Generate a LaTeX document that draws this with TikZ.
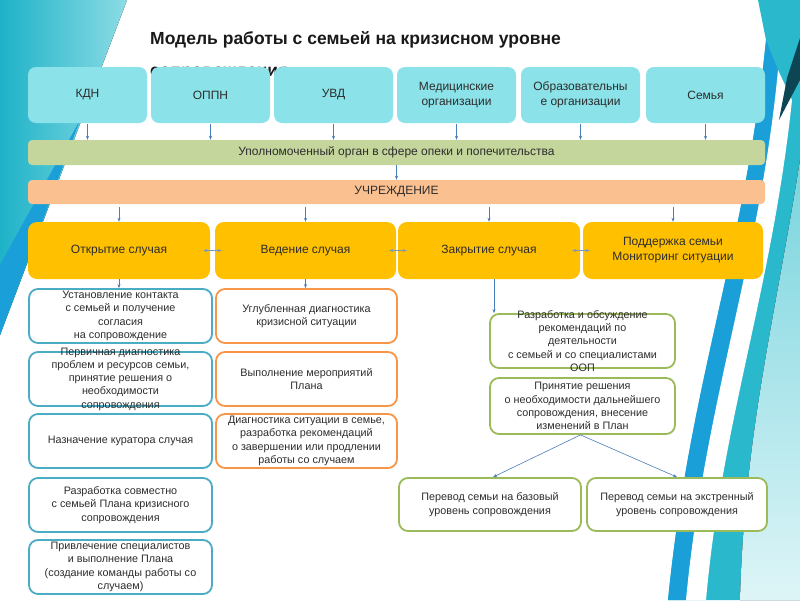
\documentclass[tikz,border=0pt]{standalone}
\usepackage{fontspec}
\setmainfont{Liberation Sans}
\usetikzlibrary{arrows.meta,fit}
\definecolor{cyanbox}{RGB}{139,226,232}
\definecolor{greenbar}{RGB}{196,214,155}
\definecolor{orangebar}{RGB}{250,192,144}
\definecolor{yel}{RGB}{255,192,0}
\definecolor{bluel}{RGB}{75,172,198}
\definecolor{orl}{RGB}{247,150,70}
\definecolor{grl}{RGB}{155,187,89}
\definecolor{arrc}{RGB}{74,126,187}
\definecolor{arrd}{RGB}{125,150,185}
\definecolor{txtc}{RGB}{45,45,45}
\definecolor{tealdeep}{RGB}{30,178,200}
\definecolor{teallight}{RGB}{140,220,228}
\definecolor{bluedeep}{RGB}{26,159,217}
\definecolor{tealmid}{RGB}{42,185,204}
\definecolor{cyanlt}{RGB}{120,212,222}
\definecolor{cyanvl}{RGB}{222,245,247}
\definecolor{navy}{RGB}{12,70,84}
\newcommand\cbox[6]{\node[#1, fit={#3 #4}] (#2) {}; \node[#6] (#2t) at (#2.center) {#5};}
\begin{document}
\begin{tikzpicture}[x=1pt,y=-1pt,
  topbox/.style={fill=cyanbox, draw=none, rounded corners=8pt, inner sep=0pt},
  gbar/.style={fill=greenbar, draw=none, rounded corners=4pt, inner sep=0pt},
  obar/.style={fill=orangebar, draw=none, rounded corners=4pt, inner sep=0pt},
  ybox/.style={fill=yel, draw=none, rounded corners=9pt, inner sep=0pt},
  lbox/.style={fill=white, draw=bluel, line width=1.8pt, rounded corners=9pt, inner sep=0pt},
  mbox/.style={fill=white, draw=orl, line width=1.8pt, rounded corners=9pt, inner sep=0pt},
  gbox/.style={fill=white, draw=grl, line width=1.8pt, rounded corners=9pt, inner sep=0pt},
  ttop/.style={font=\fontsize{12}{15}\selectfont, align=center, text=txtc, inner sep=0pt},
  tbar/.style={font=\fontsize{12}{14}\selectfont, align=center, text=txtc, inner sep=0pt},
  tyel/.style={font=\fontsize{12}{15}\selectfont, align=center, text=txtc, inner sep=0pt},
  tsm/.style={font=\fontsize{10.8}{13.3}\selectfont, align=center, text=txtc, inner sep=0pt},
  arr/.style={draw=arrc, line width=0.6pt, -{Stealth[length=4pt,width=3pt]}},
  darr/.style={draw=arrd, line width=0.6pt, {Stealth[length=4pt,width=3pt]}-{Stealth[length=4pt,width=3pt]}},
  ttl/.style={font=\bfseries\fontsize{17.5}{20}\selectfont, text=black!90, inner sep=0pt, anchor=base west}]
\useasboundingbox (0,0) rectangle (800,600);
\fill[white] (0,0) rectangle (800,600);
% left decoration
\fill[left color=tealdeep, right color=teallight] (0,0) -- (127,0) -- (0,335) -- cycle;
\fill[bluedeep] (80,120) -- (0,335) -- (0,265) -- cycle;
% right decoration
\fill[tealmid] (758,0) -- (800,0) -- (800,600) -- (668,600) .. controls (690,380) and (745,250) .. (766,40) -- cycle;
\fill[bluedeep] (766,40) .. controls (745,250) and (690,380) .. (668,600) -- (686,600) .. controls (705,400) and (760,260) .. (778,70) -- cycle;
\fill[white] (778,70) .. controls (760,260) and (705,400) .. (686,600) -- (706,600) .. controls (722,420) and (772,290) .. (792,100) -- cycle;
\fill[top color=cyanlt, bottom color=cyanvl] (800,160) .. controls (775,320) and (745,430) .. (740,600) -- (800,600) -- cycle;
\fill[navy] (800,38) -- (800,80) -- (779,120) -- (787,78) -- cycle;
% title
\node[ttl] (title1) at (150,44) {Модель работы с семьей на кризисном уровне};
\node[ttl] (title2) at (150,76) {сопровождения};
% row 1
\cbox{topbox}{r1}{(28,67)}{(147,123)}{КДН}{ttop}
\cbox{topbox}{r2}{(151,67)}{(270,123)}{ОППН}{ttop}
\cbox{topbox}{r3}{(274,67)}{(393,123)}{УВД}{ttop}
\cbox{topbox}{r4}{(397,67)}{(516,123)}{Медицинские\\организации}{ttop}
\cbox{topbox}{r5}{(521,67)}{(640,123)}{Образовательны\\е организации}{ttop}
\cbox{topbox}{r6}{(646,67)}{(765,123)}{Семья}{ttop}
% bars
\cbox{gbar}{gb}{(28,140)}{(765,165)}{Уполномоченный орган в сфере опеки и попечительства}{tbar}
\cbox{obar}{ob}{(28,180)}{(765,204)}{УЧРЕЖДЕНИЕ}{tbar}
\foreach \n in {r1,r2,r3,r4,r5,r6}{\draw[arr, shorten <=1pt] (\n.south) -- (\n.south |- gb.north);}
\draw[arr] (gb.south) -- (gb.south |- ob.north);
% yellow
\cbox{ybox}{y1}{(28,222)}{(210,279)}{Открытие случая}{tyel}
\cbox{ybox}{y2}{(215,222)}{(396,279)}{Ведение случая}{tyel}
\cbox{ybox}{y3}{(398,222)}{(580,279)}{Закрытие случая}{tyel}
\cbox{ybox}{y4}{(583,222)}{(763,279)}{Поддержка семьи\\Мониторинг ситуации}{tyel}
\foreach \n in {y1,y2,y3,y4}{\draw[arr, shorten <=3pt] (\n.north |- ob.south) -- (\n.north);}
\draw[darr] ([xshift=-7pt]y1.east) -- ([xshift=7pt]y2.west);
\draw[darr] ([xshift=-7pt]y2.east) -- ([xshift=9pt]y3.west);
\draw[darr] ([xshift=-8pt]y3.east) -- ([xshift=7pt]y4.west);
% left column
\cbox{lbox}{l1}{(29,289)}{(212,343)}{Установление контакта\\с семьей и получение\\согласия\\на сопровождение}{tsm}
\cbox{lbox}{l2}{(29,352)}{(212,406)}{Первичная диагностика\\проблем и ресурсов семьи,\\принятие решения о\\необходимости\\сопровождения}{tsm}
\cbox{lbox}{l3}{(29,414)}{(212,468)}{Назначение куратора случая}{tsm}
\cbox{lbox}{l4}{(29,478)}{(212,532)}{Разработка совместно\\с семьей Плана кризисного\\сопровождения}{tsm}
\cbox{lbox}{l5}{(29,540)}{(212,594)}{Привлечение специалистов\\и выполнение Плана\\(создание команды работы со\\случаем)}{tsm}
% middle column
\cbox{mbox}{m1}{(216,289)}{(397,343)}{Углубленная диагностика\\кризисной ситуации}{tsm}
\cbox{mbox}{m2}{(216,352)}{(397,406)}{Выполнение мероприятий\\Плана}{tsm}
\cbox{mbox}{m3}{(216,414)}{(397,468)}{Диагностика ситуации в семье,\\разработка рекомендаций\\о завершении или продлении\\работы со случаем}{tsm}
% right column
\cbox{gbox}{g1}{(490,314)}{(675,368)}{Разработка и обсуждение\\рекомендаций по\\деятельности\\с семьей и со специалистами\\ООП}{tsm}
\cbox{gbox}{g2}{(490,378)}{(675,434)}{Принятие решения\\о необходимости дальнейшего\\сопровождения, внесение\\изменений в План}{tsm}
\cbox{gbox}{bl}{(399,478)}{(581,531)}{Перевод семьи на базовый\\уровень сопровождения}{tsm}
\cbox{gbox}{br}{(587,478)}{(767,531)}{Перевод семьи на экстренный\\уровень сопровождения}{tsm}
% arrows below yellow
\draw[arr] (y1.south) -- (y1.south |- l1.north);
\draw[arr] (y2.south) -- (y2.south |- m1.north);
\draw[arr] ([xshift=5pt]y3.south) -- ([xshift=5pt]y3.south |- g1.north);
\draw[arr] ([xshift=-2pt]g2.south) -- ([xshift=3pt]bl.north);
\draw[arr] ([xshift=-2pt]g2.south) -- (br.north);
\end{tikzpicture}
\end{document}
